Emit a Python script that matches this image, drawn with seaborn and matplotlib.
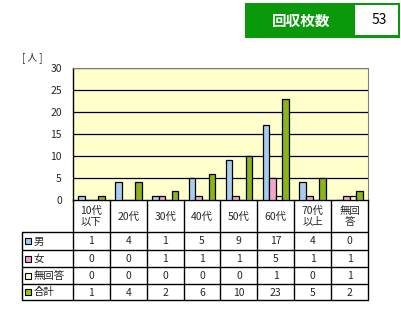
import matplotlib
matplotlib.use("Agg")
import matplotlib.pyplot as plt
import seaborn as sns
import pandas as pd
from matplotlib.patches import Rectangle

categories = ["10代以下", "20代", "30代", "40代", "50代", "60代", "70代以上", "無回答"]
col_labels = ["10代\n以下", "20代", "30代", "40代", "50代", "60代", "70代\n以上", "無回\n答"]
series = ["男", "女", "無回答", "合計"]
male = [1, 4, 1, 5, 9, 17, 4, 0]
female = [0, 0, 1, 1, 1, 5, 1, 1]
noans = [0, 0, 0, 0, 0, 1, 0, 1]
total = [1, 4, 2, 6, 10, 23, 5, 2]
values = [male, female, noans, total]
colors = ["#99CCFF", "#FF99CC", "#FFFFCC", "#99CC00"]
yticks = [0, 5, 10, 15, 20, 25, 30]
total_count = "53"

sns.set_theme(style="white")
plt.rcParams["font.family"] = ["Noto Sans CJK JP", "DejaVu Sans"]

W, H = 402, 323
fig = plt.figure(figsize=(W / 100, H / 100), dpi=100)

def px_axes(x0, y0, x1, y1):
    return fig.add_axes([x0 / W, 1 - y1 / H, (x1 - x0) / W, (y1 - y0) / H])

# data frame
rows = []
for s, vals in zip(series, values):
    for c, v in zip(categories, vals):
        rows.append({"cat": c, "series": s, "value": v})
df = pd.DataFrame(rows)

PL, PR, PT, PB = 73, 368, 68, 200
ax = px_axes(PL, PT, PR, PB)
ax.set_facecolor("#FFFFCC")
sns.barplot(data=df, x="cat", y="value", hue="series", order=categories,
            hue_order=series, palette=colors, width=0.72, gap=0,
            edgecolor="black", linewidth=0.9, legend=False, ax=ax,
            errorbar=None, zorder=3)
ax.set_xlim(-0.5, len(categories) - 0.5)
ax.set_ylim(0, 30)
ax.set_yticks(yticks)
ax.set_yticklabels([str(t) for t in yticks], fontsize=7.5)
ax.set_xticks([])
ax.set_xlabel("")
ax.set_ylabel("")
ax.tick_params(axis="y", length=0, pad=8)
for t in yticks[1:]:
    ax.axhline(t, color="black", linewidth=0.9, zorder=1)
for side in ["top", "right"]:
    ax.spines[side].set_color("#808080")
    ax.spines[side].set_linestyle((0, (1, 1)))
    ax.spines[side].set_linewidth(0.8)
for side in ["left", "bottom"]:
    ax.spines[side].set_color("black")
    ax.spines[side].set_linewidth(1.0)

# table axes in pixel coordinates
tx = fig.add_axes([0, 0, 1, 1])
tx.set_xlim(0, W)
tx.set_ylim(H, 0)
tx.axis("off")
tx.patch.set_alpha(0)

cw = (PR - PL) / len(categories)
ys = [200, 232, 250, 267, 284, 300]
LX = 22
lw = 1.0
for i, y in enumerate(ys[1:]):
    tx.plot([LX, PR], [y, y], color="black", lw=lw, solid_capstyle="butt")
for i in range(len(categories) + 1):
    x = PL + i * cw
    tx.plot([x, x], [ys[0], ys[-1]], color="black", lw=lw)
tx.plot([LX, LX], [ys[1], ys[-1]], color="black", lw=lw)

for i, lab in enumerate(col_labels):
    tx.text(PL + (i + 0.5) * cw, (ys[0] + ys[1]) / 2 + 0.5, lab, ha="center", va="center",
            fontsize=7.5, linespacing=1.15)
for r, (s, vals, col) in enumerate(zip(series, values, colors)):
    yc = (ys[r + 1] + ys[r + 2]) / 2
    tx.add_patch(Rectangle((LX + 3, yc - 3), 6, 6, facecolor=col, edgecolor="black", lw=0.8))
    tx.text(LX + 12, yc + 0.5, s, ha="left", va="center", fontsize=7.5)
    for i, v in enumerate(vals):
        tx.text(PL + (i + 0.5) * cw, yc + 0.5, str(v), ha="center", va="center", fontsize=7.5)

# unit label
tx.text(22, 58, "[ 人 ]", ha="left", va="center", fontsize=7)

# header box
tx.add_patch(Rectangle((245, 3), 155, 35, facecolor="#0A990A", edgecolor="none"))
tx.add_patch(Rectangle((355, 5), 43, 30, facecolor="white", edgecolor="none"))
tx.text(301, 20.5, "回収枚数", ha="center", va="center", fontsize=10.5, color="white",
        fontweight="bold")
tx.text(379, 20.5, total_count, ha="center", va="center", fontsize=10, color="black")

fig.savefig("out.png", dpi=100, facecolor="white")
